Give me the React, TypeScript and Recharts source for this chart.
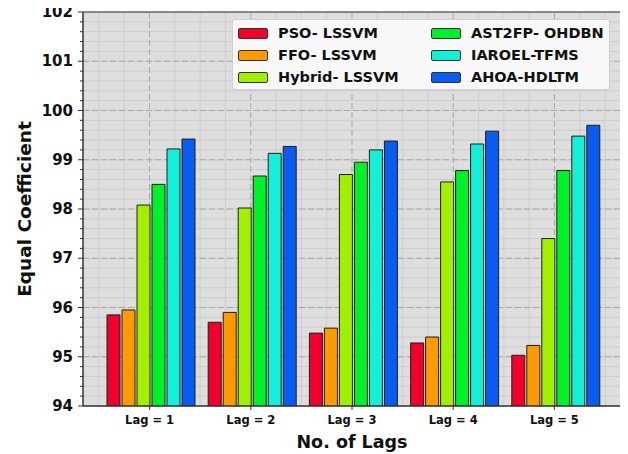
import { BarChart, Bar, XAxis, YAxis, CartesianGrid, ReferenceLine, ReferenceArea } from 'recharts'

const lags = ['Lag = 1', 'Lag = 2', 'Lag = 3', 'Lag = 4', 'Lag = 5']
const psoLssvm = [95.85, 95.7, 95.48, 95.28, 95.03]
const ffoLssvm = [95.95, 95.9, 95.58, 95.4, 95.23]
const hybridLssvm = [98.08, 98.02, 98.7, 98.55, 97.4]
const ast2fpOhdbn = [98.5, 98.67, 98.95, 98.78, 98.78]
const iaroelTfms = [99.22, 99.13, 99.2, 99.32, 99.48]
const ahoaHdltm = [99.42, 99.27, 99.38, 99.58, 99.7]

const yMajorTicks = [94, 95, 96, 97, 98, 99, 100, 101, 102]
const yMinorTicks = yMajorTicks.slice(0, -1).flatMap((v) => [v, v + 0.2, v + 0.4, v + 0.6, v + 0.8]).concat([102])
const xMinor = [-0.5, -0.25, 0.25, 0.5, 0.75, 1.25, 1.5, 1.75, 2.25, 2.5, 2.75, 3.25, 3.5, 3.75, 4.25, 4.5]
const xMajor = [0, 1, 2, 3, 4]

const series = [
  { key: 'pso', name: 'PSO- LSSVM', color: '#f2002c', values: psoLssvm },
  { key: 'ffo', name: 'FFO- LSSVM', color: '#ff9a00', values: ffoLssvm },
  { key: 'hyb', name: 'Hybrid- LSSVM', color: '#a2f000', values: hybridLssvm },
  { key: 'ast', name: 'AST2FP- OHDBN', color: '#00f02a', values: ast2fpOhdbn },
  { key: 'iar', name: 'IAROEL-TFMS', color: '#14f0d8', values: iaroelTfms },
  { key: 'aho', name: 'AHOA-HDLTM', color: '#0a5cf0', values: ahoaHdltm },
]

const data = lags.map((lag, i) => {
  const row: Record<string, number | string> = { lag, pos: i }
  series.forEach((s) => { row[s.key] = s.values[i] })
  return row
})

const font = '"DejaVu Sans", sans-serif'

const YTick = (props: any) => {
  const { x, y, payload } = props
  const v = Math.round(payload.value * 10) / 10
  const major = Number.isInteger(v)
  return (
    <g>
      <line x1={x} x2={x - (major ? 5 : 3)} y1={y} y2={y} stroke="#333" strokeWidth={1} />
      {major && (
        <text x={x - 10} y={y} dy={5} textAnchor="end" fontFamily={font} fontWeight="bold" fontSize={15} fill="#111">
          {v}
        </text>
      )}
    </g>
  )
}

const YTitle = (props: any) => {
  const { x, y, height } = props.viewBox
  const cx = x + 8
  const cy = y + height / 2
  return (
    <text x={cx} y={cy} transform={`rotate(-90 ${cx} ${cy})`} textAnchor="middle" fontFamily={font} fontWeight="bold" fontSize={18.5} fill="#111">
      Equal Coefficient
    </text>
  )
}

const XTitle = (props: any) => {
  const { x, y, width } = props.viewBox
  return (
    <text x={x + width / 2} y={y + 42} textAnchor="middle" fontFamily={font} fontWeight="bold" fontSize={17.5} fill="#111">
      No. of Lags
    </text>
  )
}

const LegendBox = () => {
  const col = (items: typeof series, left: number) => (
    <div style={{ position: 'absolute', left, top: 2, display: 'flex', flexDirection: 'column' }}>
      {items.map((s) => (
        <div key={s.key} style={{ display: 'flex', alignItems: 'center', height: 22 }}>
          <span style={{ width: 28, height: 9, background: s.color, border: '1px solid #333', borderRadius: 2, marginRight: 10 }} />
          <span style={{ fontFamily: font, fontWeight: 'bold', fontSize: 14.5, color: '#111', whiteSpace: 'nowrap' }}>{s.name}</span>
        </div>
      ))}
    </div>
  )
  return (
    <div style={{ position: 'absolute', left: 232, top: 19, width: 378, height: 71, boxSizing: 'border-box', background: 'rgba(250,250,250,0.94)', border: '1px solid #cfcfcf', borderRadius: 3 }}>
      {col(series.slice(0, 3), 5)}
      {col(series.slice(3), 198)}
    </div>
  )
}

export default function App() {
  return (
    <div style={{ position: 'relative', margin: '-8px 0 0 -8px', width: 628, height: 454 }}>
      <BarChart
        width={628}
        height={454}
        data={data}
        margin={{ top: 12, right: 7, bottom: 0, left: 23 }}
        barCategoryGap={8}
        barGap={2}
      >
        <CartesianGrid fill="#dedede" stroke="#cdcdcd" vertical={false} />
        {xMinor.map((v) => (
          <ReferenceLine key={'xm' + v} xAxisId="num" x={v} stroke="#cdcdcd" zIndex={-50} />
        ))}
        {xMajor.map((v) => (
          <ReferenceLine key={'xM' + v} xAxisId="num" x={v} stroke="#a8a8a8" strokeDasharray="6 3" zIndex={-40} />
        ))}
        {yMajorTicks.slice(1, -1).map((v) => (
          <ReferenceLine key={'yM' + v} xAxisId="num" y={v} stroke="#a8a8a8" strokeDasharray="6 3" zIndex={-40} />
        ))}
        <XAxis
          dataKey="lag"
          padding={{ left: 16, right: 16 }}
          height={48}
          tickLine={{ stroke: '#333' }}
          tickSize={4}
          tickMargin={6}
          axisLine={{ stroke: '#333' }}
          tick={{ fontFamily: font, fontWeight: 'bold', fontSize: 11.5, fill: '#111' }}
          label={<XTitle />}
        />
        <XAxis xAxisId="num" type="number" dataKey="pos" domain={[-0.657, 4.657]} allowDataOverflow hide />
        <YAxis
          type="number"
          domain={[94, 102]}
          ticks={yMinorTicks}
          interval={0}
          width={60}
          tickLine={false}
          tickSize={0}
          tickMargin={0}
          axisLine={{ stroke: '#333' }}
          tick={<YTick />}
          allowDataOverflow
          label={<YTitle />}
        />
        <ReferenceArea xAxisId="num" x1={-0.657} x2={4.657} y1={94} y2={102} fill="none" stroke="#333" strokeWidth={1} ifOverflow="extendDomain" />
        {series.map((s) => (
          <Bar key={s.key} dataKey={s.key} name={s.name} fill={s.color} stroke="#1e1e1e" strokeWidth={1} isAnimationActive={false} />
        ))}
      </BarChart>
      <LegendBox />
    </div>
  )
}
